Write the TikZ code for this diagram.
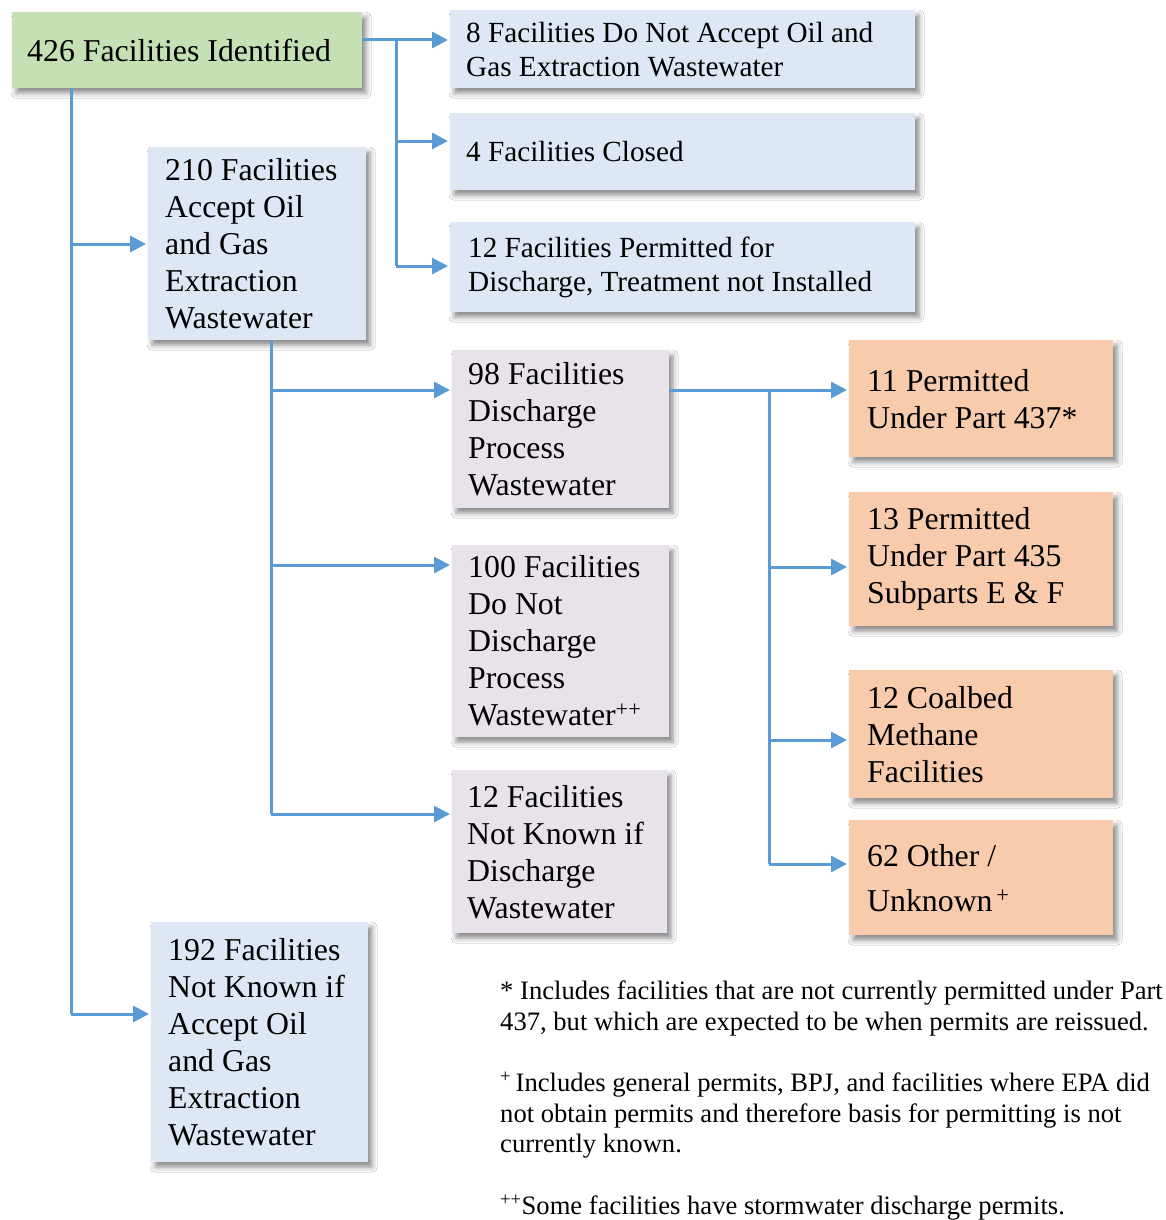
\documentclass[tikz,border=0pt]{standalone}
\usepackage{fontspec}
\setmainfont{Liberation Serif}
\usetikzlibrary{arrows.meta,shadows.blur,calc}
\definecolor{gbox}{HTML}{C5E0B4}
\definecolor{bbox}{HTML}{DDE8F4}
\definecolor{pbox}{HTML}{E8E3EB}
\definecolor{obox}{HTML}{F7CBAC}
\definecolor{lnc}{HTML}{5B9BD5}
\newcommand{\bigf}{\fontsize{31.8}{37}\selectfont}
\newcommand{\midf}{\fontsize{29.2}{34}\selectfont}
\newcommand{\smf}{\fontsize{26.6}{30.5}\selectfont}
\begin{document}
\begin{tikzpicture}[x=1pt,y=-1pt,
  fbox/.style={rectangle,draw=none,inner ysep=0pt,align=left,anchor=north west,
    execute at begin node={\spaceskip=0pt\xspaceskip=0pt\relax},
    blur shadow={shadow xshift=4pt,shadow yshift=-5pt,shadow blur radius=5pt,shadow opacity=45}},
  ln/.style={draw=lnc,line width=3pt},
  arr/.style={ln,-{Triangle[length=16pt,width=16pt]},shorten >=2pt},
  note/.style={anchor=north west,inner sep=0pt,align=left,font=\smf}]
\useasboundingbox (0,0) rectangle (1166,1220);
\fill[white] (0,0) rectangle (1166,1220);
% boxes
\node[fbox,fill=gbox,inner xsep=15pt,text width=320pt,minimum height=76pt,font=\bigf] (A) at (12,12) {426 Facilities Identified};
\node[fbox,fill=bbox,inner xsep=16pt,text width=433pt,minimum height=78pt,font=\midf] (B1) at (450,10) {8 Facilities Do Not Accept Oil and\\Gas Extraction Wastewater};
\node[fbox,fill=bbox,inner xsep=16pt,text width=433pt,minimum height=77pt,font=\midf] (B2) at (450,113) {4 Facilities Closed};
\node[fbox,fill=bbox,inner xsep=18pt,text width=429pt,minimum height=90pt,font=\midf] (B3) at (450,222) {12 Facilities Permitted for\\Discharge, Treatment not Installed};
\node[fbox,fill=bbox,inner xsep=17pt,text width=184pt,minimum height=193pt,font=\bigf] (C) at (148,147) {210 Facilities\\Accept Oil\\and Gas\\Extraction\\Wastewater};
\node[fbox,fill=bbox,inner xsep=17pt,text width=183pt,minimum height=240pt,font=\bigf] (D) at (151,922) {192 Facilities\\Not Known if\\Accept Oil\\and Gas\\Extraction\\Wastewater};
\node[fbox,fill=pbox,inner xsep=16pt,text width=185pt,minimum height=158pt,font=\bigf] (E1) at (452,350) {98 Facilities\\Discharge\\Process\\Wastewater};
\node[fbox,fill=pbox,inner xsep=16pt,text width=185pt,minimum height=192pt,font=\bigf] (E2) at (452,545) {100 Facilities\\Do Not\\Discharge\\Process\\Wastewater\textsuperscript{++}};
\node[fbox,fill=pbox,inner xsep=15pt,text width=185pt,minimum height=163pt,font=\bigf] (E3) at (452,770) {12 Facilities\\Not Known if\\Discharge\\Wastewater};
\node[fbox,fill=obox,inner xsep=18pt,text width=228pt,minimum height=117pt,font=\bigf] (F1) at (849,340) {11 Permitted\\Under Part 437*};
\node[fbox,fill=obox,inner xsep=18pt,text width=228pt,minimum height=134pt,font=\bigf] (F2) at (849,492) {13 Permitted\\Under Part 435\\Subparts E \& F};
\node[fbox,fill=obox,inner xsep=18pt,text width=228pt,minimum height=128pt,font=\bigf] (F3) at (849,670) {12 Coalbed\\Methane\\Facilities};
\node[fbox,fill=obox,inner xsep=18pt,text width=228pt,minimum height=115pt,font=\bigf] (F4) at (849,820) {62 Other /\\[8pt]Unknown\textsuperscript{\,+}};
% connector coordinates
\coordinate (ta) at (396,40);
\coordinate (tb) at (396,141);
\coordinate (tc) at (396,266);
\coordinate (ua) at (71,244);
\coordinate (ub) at (71,1014);
\coordinate (va) at (271,390);
\coordinate (vb) at (271,565);
\coordinate (vc) at (271,814);
\coordinate (wa) at (769,390);
\coordinate (wb) at (769,567);
\coordinate (wc) at (769,740);
\coordinate (wd) at (769,864);
% connectors
\draw[arr] (A.east |- ta) -- (B1.west |- ta);
\draw[ln] (ta) -- (tc);
\draw[arr] (tb) -- (B2.west |- tb);
\draw[arr] (tc) -- (B3.west |- tc);
\draw[ln] (A.south -| ub) -- (ub);
\draw[arr] (ua) -- (C.west |- ua);
\draw[arr] (ub) -- (D.west |- ub);
\draw[ln] (C.south -| vc) -- (vc);
\draw[arr] (va) -- (E1.west |- va);
\draw[arr] (vb) -- (E2.west |- vb);
\draw[arr] (vc) -- (E3.west |- vc);
\draw[arr] (E1.east |- wa) -- (F1.west |- wa);
\draw[ln] (wa) -- (wd);
\draw[arr] (wb) -- (F2.west |- wb);
\draw[arr] (wc) -- (F3.west |- wc);
\draw[arr] (wd) -- (F4.west |- wd);
% notes
\node[note] (n1) at (500,981) {* Includes facilities that are not currently permitted under Part\\437, but which are expected to be when permits are reissued.};
\node[note] (n2) at (500,1072) {\textsuperscript{+}\,Includes general permits, BPJ, and facilities where EPA did\\not obtain permits and therefore basis for permitting is not\\currently known.};
\node[note] (n3) at (500,1195) {\textsuperscript{++}Some facilities have stormwater discharge permits.};
\end{tikzpicture}
\end{document}
